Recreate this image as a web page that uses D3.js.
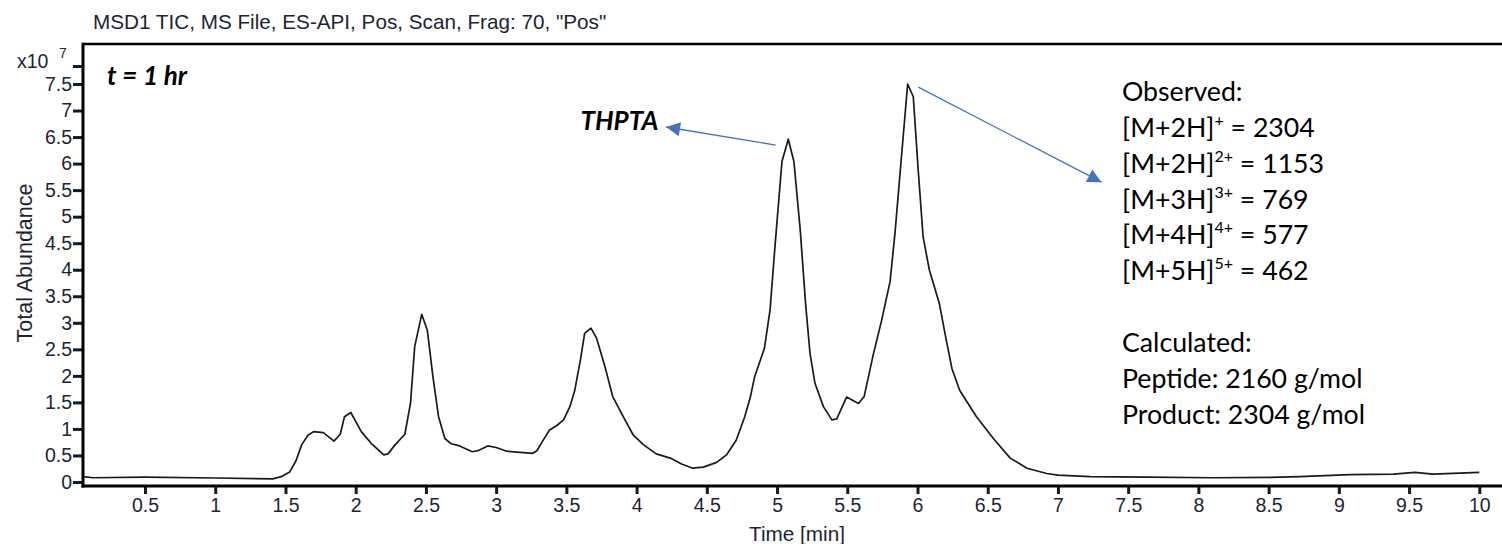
<!DOCTYPE html>
<html>
<head>
<meta charset="utf-8">
<script src="https://cdn.jsdelivr.net/npm/d3@7"></script>
<style>
  body { margin: 0; background: #fff; }
  svg { display: block; }
  .lab { font-family: "Liberation Sans", Arial, sans-serif; fill: #1c2433; }
  .note { font-family: Lato, "Open Sans", sans-serif; fill: #000; }
</style>
</head>
<body>
<svg id="chart" width="1502" height="544"></svg>
<script>

// Data
  // retention time, min
  var times = [0.06, 0.13, 0.5, 1.0, 1.41, 1.47, 1.53, 1.575, 1.615, 1.66, 1.70, 1.77, 1.845, 1.89,
    1.92, 1.965, 2.04, 2.11, 2.20, 2.23, 2.28, 2.35, 2.39, 2.42, 2.47, 2.51, 2.55, 2.59, 2.635,
    2.68, 2.74, 2.83, 2.87, 2.94, 3.00, 3.075, 3.17, 3.26, 3.29, 3.335, 3.38, 3.43, 3.48, 3.525,
    3.56, 3.60, 3.63, 3.675, 3.715, 3.775, 3.83, 3.905, 3.975, 4.05, 4.14, 4.24, 4.32, 4.40,
    4.475, 4.57, 4.64, 4.71, 4.77, 4.81, 4.84, 4.91, 4.95, 4.985, 5.035, 5.08, 5.12, 5.165,
    5.205, 5.235, 5.27, 5.33, 5.39, 5.425, 5.495, 5.58, 5.62, 5.685, 5.745, 5.805, 5.84, 5.89,
    5.93, 5.97, 6.005, 6.04, 6.084, 6.155, 6.20, 6.245, 6.30, 6.42, 6.54, 6.66, 6.78, 6.92,
    7.0, 7.23, 7.63, 8.1, 8.58, 8.72, 9.08, 9.39, 9.54, 9.67, 10.0];

  // total abundance, x10^7
  var abundance = [0.10, 0.08, 0.09, 0.075, 0.06, 0.10, 0.19, 0.40, 0.70, 0.88, 0.95, 0.93, 0.77, 0.90,
    1.23, 1.31, 0.95, 0.73, 0.51, 0.53, 0.70, 0.90, 1.48, 2.55, 3.16, 2.86, 1.98, 1.23, 0.82,
    0.72, 0.68, 0.57, 0.59, 0.68, 0.65, 0.58, 0.56, 0.54, 0.59, 0.79, 0.98, 1.06, 1.17, 1.42,
    1.73, 2.30, 2.80, 2.90, 2.71, 2.17, 1.61, 1.23, 0.89, 0.70, 0.53, 0.45, 0.34, 0.26,
    0.28, 0.37, 0.51, 0.79, 1.23, 1.60, 1.98, 2.52, 3.24, 4.43, 6.04, 6.46, 6.04, 4.75,
    3.30, 2.42, 1.86, 1.42, 1.17, 1.19, 1.60, 1.48, 1.61, 2.40, 3.05, 3.78, 4.70, 6.26,
    7.50, 7.26, 5.88, 4.62, 4.00, 3.37, 2.74, 2.14, 1.73, 1.23, 0.82, 0.45, 0.26, 0.16,
    0.13, 0.10, 0.09, 0.08, 0.09, 0.10, 0.14, 0.15, 0.18, 0.15, 0.18];

  // axis ticks
  var xTicks = d3.range(1, 21).map(function (i) { return i / 2; });
  var yTicks = d3.range(0, 16).map(function (i) { return i / 2; });

  // annotation text: [ion, charge, value]
  var observedIons = [["[M+2H]", "+", "= 2304"], ["[M+2H]", "2+", "= 1153"], ["[M+3H]", "3+", "= 769"],
    ["[M+4H]", "4+", "= 577"], ["[M+5H]", "5+", "= 462"]];
  var calculatedMasses = ["Peptide: 2160 g/mol", "Product: 2304 g/mol"];

// Layout
  var svg = d3.select('#chart');
  var plotLeft = 83, plotTop = 44, plotBottom = 486, plotRight = 1502;

  var x = d3.scaleLinear().domain([0, 10]).range([74.8, 1479.3]);
  var y = d3.scaleLinear().domain([0, 7.5]).range([482, 84]);

// Frame
  svg.append('line').attr('x1', plotLeft).attr('x2', plotRight).attr('y1', plotTop).attr('y2', plotTop)
    .attr('stroke', '#000').attr('stroke-width', 2.5);

// Axes
  var fmt = function (d) { return d % 1 === 0 ? d : d.toFixed(1); };

  var xAxis = d3.axisBottom(x).tickValues(xTicks).tickSize(8).tickPadding(4).tickFormat(fmt);
  var gx = svg.append('g').attr('transform', 'translate(0,' + plotBottom + ')').call(xAxis);
  gx.select('.domain').remove();
  gx.append('line').attr('x1', plotLeft - 1.5).attr('x2', plotRight).attr('stroke', '#000').attr('stroke-width', 3);

  var yAxis = d3.axisLeft(y).tickValues(yTicks).tickSize(10).tickPadding(1).tickFormat(fmt);
  var gy = svg.append('g').attr('transform', 'translate(' + plotLeft + ',0)').call(yAxis);
  gy.select('.domain').remove();
  gy.append('line').attr('y1', plotTop - 1.2).attr('y2', plotBottom + 1.5).attr('stroke', '#000').attr('stroke-width', 3);

  [gx, gy].forEach(function (g) {
    g.selectAll('.tick line').attr('stroke', '#0f1a2a').attr('stroke-width', 3);
    g.selectAll('.tick text').attr('class', 'lab').style('font-size', '19.5px').attr('fill', '#1c2433');
  });

  // exponent marker tick at top of y axis
  svg.append('line').attr('x1', plotLeft - 10).attr('x2', plotLeft).attr('y1', 66.5).attr('y2', 66.5)
    .attr('stroke', '#0f1a2a').attr('stroke-width', 3);
  svg.append('text').attr('class', 'lab').attr('x', 17).attr('y', 68).style('font-size', '19.5px').text('x10');
  svg.append('text').attr('class', 'lab').attr('x', 59).attr('y', 58).style('font-size', '14px').text('7');

// Trace
  var line = d3.line()
    .x(function (d, i) { return x(times[i]); })
    .y(function (d) { return y(d); });

  svg.append('path')
    .datum(abundance)
    .attr('d', line)
    .attr('fill', 'none')
    .attr('stroke', '#1a1a1a')
    .attr('stroke-width', 1.7)
    .attr('stroke-linejoin', 'round');

// Titles
  svg.append('text').attr('class', 'lab').attr('x', 93).attr('y', 29).style('font-size', '20.7px')
    .text('MSD1 TIC, MS File, ES-API, Pos, Scan, Frag: 70, "Pos"');
  svg.append('text').attr('class', 'lab').attr('transform', 'translate(32,263) rotate(-90)')
    .attr('text-anchor', 'middle').style('font-size', '21.5px').text('Total Abundance');
  svg.append('text').attr('class', 'lab').attr('x', 797).attr('y', 541)
    .attr('text-anchor', 'middle').style('font-size', '20.7px').text('Time [min]');

// Annotations
  svg.append('text').attr('class', 'note').attr('x', 107).attr('y', 85)
    .style('font-size', '26px').style('font-weight', 'bold').style('font-style', 'italic')
    .attr('xml:space', 'preserve').text('t = 1 hr');
  svg.append('text').attr('class', 'note').attr('x', x(3.6)).attr('y', 130)
    .style('font-size', '26px').style('font-weight', 'bold').style('font-style', 'italic').text('THPTA');

  var blue = '#4472C4';
  var defs = svg.append('defs');
  defs.append('marker').attr('id', 'head').attr('viewBox', '0 0 10 10')
    .attr('refX', 10).attr('refY', 5).attr('markerWidth', 15).attr('markerHeight', 14)
    .attr('markerUnits', 'userSpaceOnUse').attr('orient', 'auto')
    .append('path').attr('d', 'M0,0 L10,5 L0,10 Z').attr('fill', blue);

  // arrows: [t0, v0, t1, v1]
  var arrows = [[4.99, 6.35, 4.21, 6.69], [6.006, 7.44, 7.31, 5.65]];
  svg.selectAll('.arrow').data(arrows).enter().append('line')
    .attr('class', 'arrow')
    .attr('x1', function (d) { return x(d[0]); }).attr('y1', function (d) { return y(d[1]); })
    .attr('x2', function (d) { return x(d[2]); }).attr('y2', function (d) { return y(d[3]); })
    .attr('stroke', blue).attr('stroke-width', 1.3)
    .attr('marker-end', 'url(#head)');

  // mass block
  var bx = 1122, lh = 35.6;
  var block = svg.append('g').attr('class', 'note').style('font-size', '26.7px');
  block.append('text').attr('x', bx).attr('y', 100.7).text('Observed:');
  observedIons.forEach(function (r, i) {
    var t = block.append('text').attr('x', bx).attr('y', 137.3 + i * lh);
    t.append('tspan').text(r[0]);
    t.append('tspan').attr('dy', -11).style('font-size', '16px').text(r[1]);
    t.append('tspan').attr('dy', 11).text(' ' + r[2]);
  });
  block.append('text').attr('x', bx).attr('y', 351.7).text('Calculated:');
  calculatedMasses.forEach(function (s, i) {
    block.append('text').attr('x', bx).attr('y', 388.3 + i * lh).text(s);
  });

</script>
</body>
</html>
